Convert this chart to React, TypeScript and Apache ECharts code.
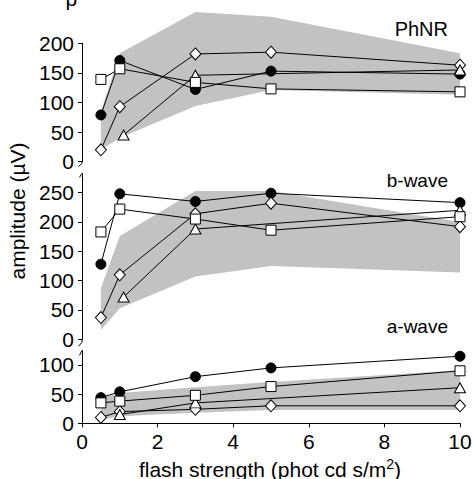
import React, { useEffect, useRef } from "react";
import * as echarts from "echarts";

// flash strengths (phot cd s/m2)
const flash = [0.5, 1, 3, 5, 10];
const flashTriTop = [1.1, 3, 10];
const flashTriA = [1, 3, 10];

// PhNR amplitudes (µV)
const phnrCircle = [79, 171, 122, 153, 148];
const phnrSquare = [139, 157, 134, 123, 118];
const phnrDiamond = [20, 93, 182, 185, 163];
const phnrTriangle = [45, 146, 155];
const phnrBandLow = [20, 40, 94, 121, 113];
const phnrBandHigh = [85, 183, 253, 245, 183];

// b-wave amplitudes (µV)
const bCircle = [128, 248, 235, 249, 233];
const bSquare = [183, 222, 205, 186, 209];
const bDiamond = [37, 110, 214, 232, 192];
const bTriangle = [72, 188, 220];
const bBandLow = [16, 53, 107, 125, 114];
const bBandHigh = [87, 176, 253, 253, 200];

// a-wave amplitudes (µV)
const aCircle = [44, 54, 80, 95, 115];
const aSquare = [35, 38, 48, 63, 90];
const aDiamond = [10, 20, 24, 30, 30];
const aTriangle = [15, 35, 61];
const aBandLow = [6, 12, 18, 23, 23];
const aBandHigh = [43, 52, 62, 71, 91];

const xTicks = [0, 2, 4, 6, 8, 10];

const FONT = "'Liberation Sans', Arial, Helvetica, sans-serif";

const pts = (xs: number[], ys: number[]) => xs.map((x, i) => [x, ys[i]]);

function bandSeries(k: number, low: number[], high: number[]) {
  const data = flash.map((x, i) => [x, low[i], high[i]]);
  return {
    type: "custom",
    xAxisIndex: k,
    yAxisIndex: k,
    data,
    clip: false,
    silent: true,
    z: 1,
    renderItem: (params: any, api: any) => {
      if (params.dataIndex !== 0) return null;
      const upper = data.map((d) => api.coord([d[0], d[2]]));
      const lower = data.map((d) => api.coord([d[0], d[1]])).reverse();
      return {
        type: "polygon",
        shape: { points: [...upper, ...lower] },
        style: { fill: "#c2c2c2", stroke: null },
      };
    },
  };
}

function markerSeries(k: number, xs: number[], ys: number[], symbol: string, fill: string, size: any) {
  return {
    type: "line",
    xAxisIndex: k,
    yAxisIndex: k,
    data: pts(xs, ys),
    symbol,
    symbolSize: size,
    showSymbol: true,
    lineStyle: { color: "#000", width: 1 },
    itemStyle: { color: fill, borderColor: "#000", borderWidth: 1 },
    clip: false,
    silent: true,
    z: 3,
  };
}

function panelSeries(k: number, circle: number[], diamond: number[], triX: number[], tri: number[], square: number[], low: number[], high: number[]) {
  return [
    bandSeries(k, low, high),
    markerSeries(k, flash, circle, "circle", "#000", 10),
    markerSeries(k, flash, diamond, "diamond", "#fff", [11, 12]),
    markerSeries(k, triX, tri, "triangle", "#fff", [11, 10]),
    markerSeries(k, flash, square, "rect", "#fff", 10),
  ];
}

const L = 82;
const R = 15;
const panels = [
  { top: 43.3, bottom: 317.3, max: 200 },
  { top: 173.3, bottom: 139.7, max: 283 },
  { top: 350.4, bottom: 55.7, max: 125 },
];

export default function App() {
  const ref = useRef<HTMLDivElement>(null);
  useEffect(() => {
    if (!ref.current) return;
    const chart = echarts.init(ref.current, null, { renderer: "svg" });
    const y0 = [479 - panels[0].bottom, 479 - panels[1].bottom, 479 - panels[2].bottom];
    const lineStyle = { stroke: "#000", lineWidth: 1, fill: null };
    const option: any = {
      animation: false,
      backgroundColor: "#fff",
      grid: panels.map((p) => ({ left: L, right: R, top: p.top, bottom: p.bottom })),
      xAxis: panels.map((p, k) => ({
        type: "value",
        gridIndex: k,
        min: 0,
        max: 10,
        interval: 2,
        show: k === 2,
        splitLine: { show: false },
        axisLine: { show: true, lineStyle: { color: "#000", width: 1 } },
        axisTick: { show: true, inside: false, length: 4, lineStyle: { color: "#000" } },
        axisLabel: {
          color: "#000",
          fontSize: 21,
          fontFamily: FONT,
          margin: 8,
          formatter: (v: number) => (xTicks.includes(v) ? String(v) : ""),
        },
      })),
      yAxis: panels.map((p, k) => ({
        type: "value",
        gridIndex: k,
        min: 0,
        max: p.max,
        interval: 50,
        splitLine: { show: false },
        axisLine: { show: true, lineStyle: { color: "#000", width: 1 } },
        axisTick: { show: true, inside: false, length: 4, lineStyle: { color: "#000" } },
        axisLabel: { color: "#000", fontSize: 21, fontFamily: FONT, margin: 8 },
      })),
      series: [
        ...panelSeries(0, phnrCircle, phnrDiamond, flashTriTop, phnrTriangle, phnrSquare, phnrBandLow, phnrBandHigh),
        ...panelSeries(1, bCircle, bDiamond, flashTriTop, bTriangle, bSquare, bBandLow, bBandHigh),
        ...panelSeries(2, aCircle, aDiamond, flashTriA, aTriangle, aSquare, aBandLow, aBandHigh),
      ],
      graphic: [
        {
          type: "text",
          x: 65.5,
          y: -2,
          style: { text: "p", fontSize: 21, fontFamily: FONT, fill: "#000", verticalAlign: "middle" },
        },
        {
          type: "text",
          x: 448,
          y: 29,
          style: { text: "PhNR", fontSize: 20, fontFamily: FONT, fill: "#000", align: "right", verticalAlign: "middle" },
        },
        {
          type: "text",
          x: 448,
          y: 180,
          style: { text: "b-wave", fontSize: 19, fontFamily: FONT, fill: "#000", align: "right", verticalAlign: "middle" },
        },
        {
          type: "text",
          x: 448,
          y: 326,
          style: { text: "a-wave", fontSize: 19, fontFamily: FONT, fill: "#000", align: "right", verticalAlign: "middle" },
        },
        {
          type: "text",
          x: 17,
          y: 211,
          rotation: Math.PI / 2,
          style: { text: "amplitude (µV)", fontSize: 21, fontFamily: FONT, fill: "#000", align: "center", verticalAlign: "middle" },
        },
        {
          type: "text",
          x: 270,
          y: 469,
          style: {
            text: "{a|flash strength (phot cd s/m}{s|2}{a|)}",
            align: "center",
            verticalAlign: "middle",
            fill: "#000",
            rich: {
              a: { fontSize: 21, fontFamily: FONT, lineHeight: 24, fill: "#000" },
              s: { fontSize: 14, fontFamily: FONT, lineHeight: 21, verticalAlign: "top", fill: "#000" },
            },
          },
        },
        // axis break marks
        { type: "polyline", shape: { points: [[L, y0[0]], [L, y0[0] + 1.5], [L - 3.5, y0[0] + 5]] }, style: lineStyle },
        { type: "polyline", shape: { points: [[L - 2.5, panels[1].top + 4], [L, panels[1].top]] }, style: lineStyle },
        { type: "polyline", shape: { points: [[L, y0[1]], [L, y0[1] + 3], [L - 3.5, y0[1] + 7]] }, style: lineStyle },
        { type: "polyline", shape: { points: [[L - 2.5, panels[2].top + 5], [L, panels[2].top]] }, style: lineStyle },
      ],
    };
    chart.setOption(option);
    return () => chart.dispose();
  }, []);
  return <div ref={ref} style={{ position: "fixed", left: 0, top: 0, width: 475, height: 479 }} />;
}
